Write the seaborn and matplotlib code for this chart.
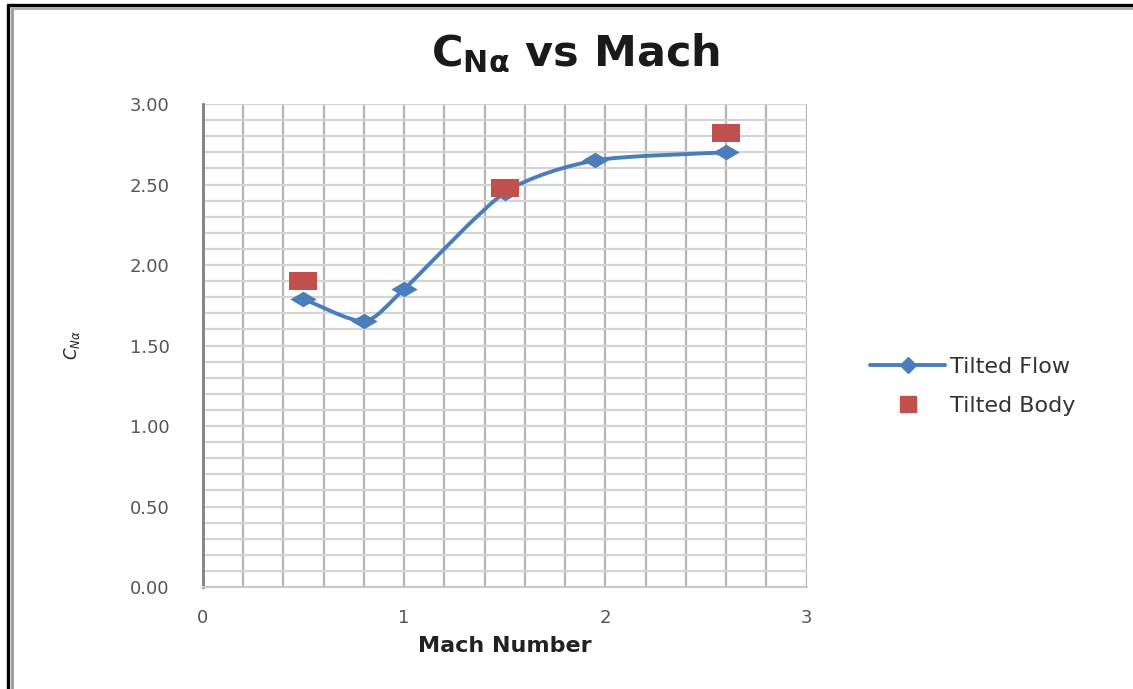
import numpy as np
import pandas as pd
import seaborn as sns
import matplotlib.pyplot as plt
from matplotlib.path import Path
from matplotlib.patches import PathPatch
from matplotlib.lines import Line2D

# values
flow_mach = [0.5, 0.8, 1.0, 1.5, 1.95, 2.6]
flow_cn = [1.79, 1.65, 1.85, 2.45, 2.65, 2.70]
body_mach = [0.5, 1.5, 2.6]
body_cn = [1.90, 2.48, 2.82]
x_ticks = [0, 1, 2, 3]
y_ticks = [0.0, 0.5, 1.0, 1.5, 2.0, 2.5, 3.0]

blue = "#4A7EBB"
red = "#C0504D"

flow = pd.DataFrame({"mach": flow_mach, "cn": flow_cn})
body = pd.DataFrame({"mach": body_mach, "cn": body_cn})

sns.set_style("white")
plt.rcParams['font.family'] = ['DejaVu Sans']

fig = plt.figure(figsize=(11.33, 6.89), dpi=100)
ax = fig.add_axes([0.179, 0.148, 0.533, 0.701])

# gridlines like the Excel chart
for v in np.arange(0, 3.01, 0.2):
    ax.axvline(v, color="#b4b4b4", lw=1.6, zorder=0)
for v in np.arange(0, 3.01, 0.1):
    ax.axhline(v, color="#d4d4d4", lw=1.6, zorder=0)

# smoothed line (Excel "smooth line" look) drawn as bezier through the points
px = np.array(flow_mach)
py = np.array(flow_cn)
verts = [(px[0], py[0])]
codes = [Path.MOVETO]
n = len(px)
k = 0.12
for i in range(n - 1):
    p0 = np.array([px[max(i - 1, 0)], py[max(i - 1, 0)]])
    p1 = np.array([px[i], py[i]])
    p2 = np.array([px[i + 1], py[i + 1]])
    p3 = np.array([px[min(i + 2, n - 1)], py[min(i + 2, n - 1)]])
    c1 = p1 + (p2 - p0) * k
    c2 = p2 - (p3 - p1) * k
    verts += [tuple(c1), tuple(c2), tuple(p2)]
    codes += [Path.CURVE4] * 3
ax.add_patch(PathPatch(Path(verts, codes), fill=False, edgecolor=blue, lw=2.8, zorder=2))

diamond = [(0, 1), (1.7, 0), (0, -1), (-1.7, 0), (0, 1)]
rect = [(-1.5, -1), (1.5, -1), (1.5, 1), (-1.5, 1), (-1.5, -1)]

sns.scatterplot(data=flow, x="mach", y="cn", marker=diamond, s=360, color=blue,
                edgecolor=blue, linewidth=0, ax=ax, zorder=3)
sns.scatterplot(data=body, x="mach", y="cn", marker=rect, s=390, color=red,
                edgecolor=red, linewidth=0, ax=ax, zorder=4)

ax.set_xlim(0, 3)
ax.set_ylim(0, 3)
ax.set_xticks(x_ticks)
ax.set_xticklabels([str(t) for t in x_ticks], fontsize=13, color="#555555")
ax.set_yticks(y_ticks)
ax.set_yticklabels([f"{t:.2f}" for t in y_ticks], fontsize=13, color="#555555")
ax.tick_params(axis="x", pad=12, length=4, color="#999999")
ax.tick_params(axis="y", pad=20, length=4, color="#999999", direction="out")
for s in ["top", "right"]:
    ax.spines[s].set_visible(False)
ax.spines["left"].set_color("#808080")
ax.spines["left"].set_linewidth(2)
ax.spines["bottom"].set_color("#c8c8c8")
ax.spines["bottom"].set_linewidth(1.5)

ax.set_xlabel("Mach Number", fontsize=16, fontweight="bold", color="#222222", labelpad=6)
ax.set_ylabel(r"$C_{N\alpha}$", fontsize=12, color="#222222", labelpad=34)

fig.text(0.508, 0.922, r"C$_{\mathbf{N\alpha}}$ vs Mach", fontsize=31, fontweight="bold",
         ha="center", va="center", color="#1a1a1a")

handles = [
    Line2D([0], [0], color=blue, lw=2.8, marker="D", markersize=8),
    Line2D([0], [0], color=red, lw=0, marker="s", markersize=12),
]
fig.legend(handles, ["Tilted Flow", "Tilted Body"], loc="center left",
           bbox_to_anchor=(0.75, 0.439), frameon=False, fontsize=16,
           labelspacing=0.85, handlelength=3.4, handletextpad=0.2,
           labelcolor="#333333")

# outer frame of the picture: black top/left edge with a grey inner line
fig.add_artist(Line2D([0.0075, 0.0075], [0.0, 0.993], transform=fig.transFigure,
                      color="black", lw=2.4))
fig.add_artist(Line2D([0.0075, 1.0], [0.993, 0.993], transform=fig.transFigure,
                      color="black", lw=2.4))
fig.add_artist(Line2D([0.0106, 0.0106], [0.0, 0.988], transform=fig.transFigure,
                      color="#999999", lw=2))
fig.add_artist(Line2D([0.0106, 1.0], [0.988, 0.988], transform=fig.transFigure,
                      color="#aaaaaa", lw=2))

fig.savefig("out.png", dpi=100)
